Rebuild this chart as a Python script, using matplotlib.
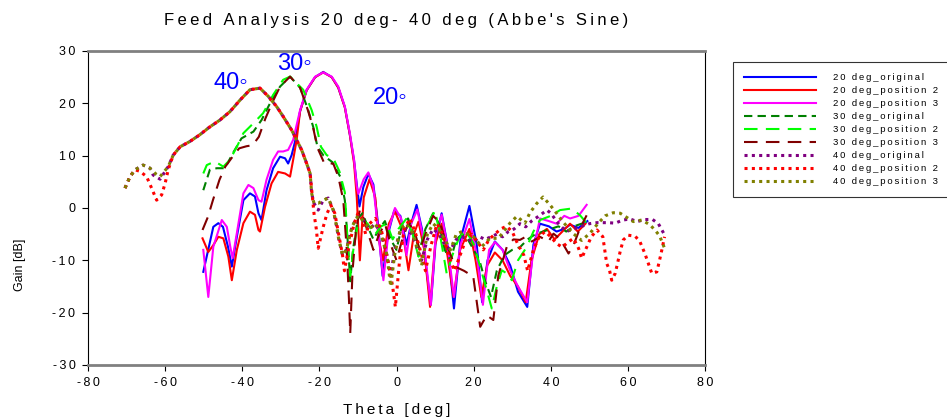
import matplotlib
matplotlib.use("Agg")
import matplotlib.pyplot as plt

plt.rcParams["font.family"] = ["Liberation Sans", "DejaVu Sans"]

# 20 deg feed position
theta_20_orig = [-50.1, -47.5, -46.2, -45, -43.7, -42.7, -41.4, -39.7, -38, -36.7, -35.8, -35, -33.7,
                 -32, -30.2, -28.9, -28.1, -27.2, -26.3, -25, -23.3, -21.1, -19, -16.8, -15.1, -13.4,
                 -12.1, -11, -10.3, -9.6, -8.6, -7.3, -6, -4.8, -3.6, -2.2, -0.6, 1.0, 2.6, 3.8, 5.2,
                 6.6, 7.8, 8.9, 10.2, 11.7, 13.2, 14.9, 16.6, 18.9, 20.8, 22.2, 23.6, 25.5, 27.5, 29.5,
                 31.5, 33.9, 35.5, 37.2, 39.5, 41.5, 43.5, 45, 47.2, 49.5]
gain_20_orig = [-12.2, -3.6, -2.9, -3.6, -7.4, -11.2, -5.5, 1.5, 2.8, 2.2, -1, -2.3, 3.4,
                7.6, 9.8, 9.5, 8.5, 10.1, 12.7, 18.5, 22.5, 25, 26, 25, 23, 19.3,
                14, 9, 4.5, 0.3, 4, 6.5, 4.5, -3, -13, -5, -0.5, -1.5, -7, -3, 0.6,
                -4, -12, -18.5, -6, -1, -7, -19.2, -6, 0.4, -7, -18, -10, -6.4, -8, -11,
                -16, -18.9, -7, -3, -3.5, -4.5, -4, -3.2, -3.8, -2.5]

theta_20_pos2 = [-50.3, -48.8, -47.5, -46.2, -44.9, -43.6, -42.7, -41.4, -39.7, -38, -36.7, -35.8,
                 -35.4, -34.1, -32.4, -30.7, -28.9, -27.6, -26.8, -25.9, -25, -23.3, -21.1, -19,
                 -16.8, -15.1, -13.4, -12.1, -11, -10.3, -9.5, -8.5, -7, -5.5, -4.7, -3.5, -2, -0.4,
                 1.5, 3.1, 4.5, 5.7, 7.2, 8.7, 10, 11.7, 13.2, 14.8, 16.5, 18.9, 20.5, 22, 23.5, 25.5,
                 27.5, 29.5, 31.5, 33.5, 35, 37, 39, 41, 43, 45, 47, 49]
gain_20_pos2 = [-5.8, -8.4, -7.1, -5.5, -5.8, -9.3, -13.8, -8, -2.9, -0.7, -1.3, -4.2,
                -4.5, 0.2, 4.7, 6.9, 6.6, 6, 9.2, 13, 18.5, 22.5, 25, 25.9,
                25, 23, 19.2, 14, 8.5, 2, -10, 2, 5.5, 2, -5.5, -10, -3, -0.7,
                -4, -11.9, -5, -2.6, -8, -18.9, -7, -3, -9, -17, -8, -4, -10, -17, -11, -8.5,
                -10, -13, -15, -18, -10, -5, -4, -6, -4.5, -3, -4.5, -3]

theta_20_pos3 = [-50.1, -48.8, -47.5, -45.3, -44, -43.1, -42.5, -41.4, -39.7, -38.4, -37.1, -35.8,
                 -35, -33.7, -32, -30.7, -29.4, -28.1, -26.8, -25, -23.3, -21.1, -19, -16.8, -15.1,
                 -13.4, -12.1, -11, -10.3, -9.9, -8.5, -7.3, -6, -4.8, -3.4, -2, -0.4, 1.2, 2.6, 3.8,
                 5.4, 7, 8.9, 10.2, 11.7, 13.4, 14.9, 16.6, 18.9, 20.8, 22.4, 24, 25.5, 27.5, 29.5,
                 31.5, 33.9, 35.5, 37.2, 39.5, 41.5, 43.5, 45, 47.2, 49.3]
gain_20_pos3 = [-8, -17, -7.4, -2.3, -3.6, -7.4, -9.6, -4.8, 2.8, 4.4, 3.8, 1.5,
                1.2, 5.4, 9.2, 10.8, 10.8, 11.1, 13, 18.7, 22.6, 25.1, 25.9, 25.1, 23.2,
                19.4, 14.3, 9.2, 4.1, 2.7, 5.5, 6.8, 4, -4, -13.8, -4, 0, -2, -9, -3,
                -0.3, -6, -18.5, -5, -1.3, -8, -17, -7, -2.1, -9, -18.5, -8, -6.5, -8, -12,
                -15, -18, -8, -2, -2.5, -3, -1.5, -2, -1.5, 0.6]

# 30 deg feed position
theta_30_orig = [-50.1, -48.4, -46.6, -44.5, -42.4, -40.2, -37.1, -35, -32.8, -30.2, -27.6, -25,
                 -22.9, -21.6, -20.5, -18.9, -16.7, -14.6, -13.4, -12.5, -12, -11.3, -10, -8.8, -7.5,
                 -6, -4.5, -3, -1.5, 0, 1.5, 3, 4.5, 6, 7.5, 9.5, 11, 12.5, 14, 15.5, 17, 18.5, 20,
                 21.5, 23, 24.5, 26, 28, 30, 32, 34, 36, 38, 40, 42, 44, 46, 48, 49.5]
gain_30_orig = [3.4, 7.3, 7.6, 7.6, 10.5, 13.3, 14.6, 16.8, 20, 23.2, 25.1, 23,
                18.7, 15.5, 11.7, 10, 8.8, 6, 1.5, -8, -14, -8, -2, -1, -3.5,
                -6, -4, -2.5, -6, -8, -3, -2, -5, -8, -4, -1, -3, -8, -10, -6, -5, -6, -8,
                -10, -14, -17, -12, -9, -8, -7.5, -6, -5, -4.5, -4, -3.5, -4.5, -3.5, -3, -3.5]

theta_30_pos2 = [-50.1, -49.2, -47.1, -44.9, -43.2, -41.4, -39.7, -37.1, -34.6, -32, -29.4, -27.6,
                 -24.2, -22, -20.7, -19.6, -18.1, -16.4, -14.8, -13.4, -12.5, -12, -11.2, -10, -9,
                 -7.5, -5.6, -4, -2.5, -1, 0.5, 2.6, 4.2, 5.7, 7.5, 10, 11.5, 13, 14.5, 16, 17.8,
                 19.9, 22, 23.5, 24.7, 26, 27.3, 28.6, 29.9, 31.5, 33.8, 35.5, 37.2, 40, 42.4, 45.4,
                 47.6, 49.3]
gain_30_pos2 = [6.6, 8.2, 8.9, 7.9, 9.2, 11.7, 14.3, 16.2, 18.1, 21.6, 24.5, 25.1,
                22.6, 18.7, 15.5, 11.7, 10.1, 9.5, 7, 3, -8.7, -13, -8, -3, -2.3,
                -3, -5.1, -3.5, -3, -6, -4, -2, -5, -9.3, -4, -0.5, -6, -12.5, -9, -6.1, -4.2,
                -6.7, -12, -16, -19.2, -15, -11.9, -12.5, -13.8, -10, -7.4, -4.5, -2.3, -1.5, -0.4, -0.1,
                -1.4, -2.9]

theta_30_pos3 = [-50.3, -48.9, -47.6, -45.9, -44.4, -42.5, -40.8, -38.9, -37.3, -35.7, -34, -32.3,
                 -30.2, -27.6, -25, -22.9, -21.6, -20.5, -18.7, -16.4, -15.1, -13.8, -12.9, -12.3, -12,
                 -11.4, -10.5, -9.5, -8.5, -7.3, -6, -4.5, -3, -1.5, 0, 1.5, 3, 4.5, 6, 7.5, 9.5,
                 11.3, 13, 15.2, 17.5, 19.9, 21.7, 23.4, 25.1, 26.4, 28.6, 30.3, 32, 33.5, 35.1, 37.2,
                 39.4, 40.7, 42.5, 44.6, 45.9, 47.5, 49.3]
gain_30_pos3 = [-4.2, -1.7, 1.5, 5.4, 7.9, 9.8, 11.4, 11.8, 12, 13.6, 17.1, 20,
                23.2, 25.1, 23, 18.5, 15.3, 11.5, 8.5, 8.5, 6, 1.5, -8, -18, -24,
                -12, -4, -0.4, -2, -5, -8, -5, -3, -7, -10, -6, -3, -4, -8, -5, -1.5,
                -2.9, -7, -11.2, -12, -13.1, -22.7, -20.5, -21.4, -12.9, -7.4, -6, -6.1, -5.5, -6.4, -5.5,
                -6.4, -4.9, -6, -8.7, -7.1, -4, -1.4]

# 40 deg feed position
theta_40_orig = [-70.4, -69.1, -67.8, -65.7, -63.9, -63.1, -61.3, -59.2, -57.9, -56.1, -53.6, -51,
                 -48.4, -45.8, -43.2, -40.6, -38, -35.4, -33.2, -31.1, -29.4, -27.2, -25.9, -24.6,
                 -23.3, -22.4, -22, -21.4, -20.3, -19, -17.7, -16.4, -15.5, -15.1, -14, -13, -11.5,
                 -10, -8.5, -7, -5.5, -4, -2.5, -1.5, -0.5, 1, 2.5, 4, 5.5, 6.5, 8, 9.5, 11, 12.5, 14,
                 15.5, 17, 18.5, 20, 21.5, 23, 24.5, 26, 27.5, 29, 30.5, 32, 33.5, 35, 37, 39, 40,
                 42, 44, 46, 48, 50, 52, 54.9, 56.7, 58.7, 60.6, 62.4, 64.4, 66.4, 67.9, 68.8, 69.4]
gain_40_orig = [3.8, 6, 7.3, 8.2, 7.6, 6.3, 5.5, 7.9, 10.1, 11.7, 12.7, 14,
                15.5, 16.8, 18.4, 20.6, 22.6, 22.9, 21.3, 19.4, 17.5, 14.9, 13, 11.1,
                8.5, 6.6, 2.8, 0.9, -0.4, 1.5, 1.9, -0.4, -3.6, -5.5, -9, -8, -3.5,
                -1.5, -2.5, -4, -3, -5, -9, -13, -8, -4.5, -4, -5, -8, -10, -6, -4, -5, -7, -8,
                -6, -5.5, -6, -6.5, -5.5, -6, -5.5, -5, -5.5, -4.5, -4, -3, -3.6, -2.5, -1.5, -0.4, -1,
                -3, -4.5, -4, -3.5, -3, -2.8, -2.8, -2.9, -2.3, -2.1, -2.6, -2.2, -2.2, -3, -4.2, -5]

theta_40_pos2 = [-70.4, -69.1, -67.8, -66.5, -64.8, -63.5, -62.2, -60.9, -60, -59.2, -57.9, -56.1,
                 -53.6, -51, -48.4, -45.8, -43.2, -40.6, -38, -35.4, -33.2, -31.1, -29.4, -27.2, -25.9,
                 -24.6, -23.3, -22.4, -21.4, -20.8, -20.3, -19, -18, -17, -16, -15, -14, -13.5, -12.5,
                 -11, -10, -9, -8, -7, -5.5, -4, -2.5, -1, -0.3, 0.8, 2, 3.5, 5, 6.5, 7.5, 9, 10.5,
                 12, 13.5, 15, 16.5, 18, 19.5, 21, 22.5, 24, 25.5, 27, 28.5, 30, 31.5, 33, 34, 35.5,
                 37, 38.5, 40, 41.5, 43, 44.5, 45.9, 47.2, 48, 49, 50.5, 52, 53.5, 54.5, 55.2, 55.8,
                 56.7, 57.3, 58, 58.8, 60.1, 61.9, 63.1, 64.4, 65.3, 66.2, 67.5, 68.2, 68.8, 69.5]
gain_40_pos2 = [3.8, 6, 7.3, 7, 6, 3.8, 1.5, 2.5, 4.7, 7.3, 10.1, 11.7,
                12.7, 14, 15.5, 16.8, 18.4, 20.6, 22.6, 22.9, 21.3, 19.4, 17.5, 14.9, 13,
                11.1, 8.5, 6.6, -1, -4, -7.7, -3.6, -1, 0.5, -1, -5, -9, -12, -8,
                -3, -1, -2, -5, -3, -2, -4, -9, -15, -18.9, -10, -4, -2, -5, -9, -12, -7, -3,
                -5, -9, -12, -9, -6, -5, -6.5, -8, -6, -5, -4, -3.5, -4.5, -7, -9, -12, -8,
                -5.5, -4.5, -5.5, -6.8, -7.5, -6.5, -5.8, -7.7, -9.6, -8, -5.5, -4.2, -5.5, -10.6, -11.8, -13.8,
                -12.5, -10.6, -8.3, -6.1, -5.2, -5.4, -6.4, -8.7, -10.6, -12.5, -12.2, -10, -8, -5.5]

theta_40_pos3 = [-70.4, -69.1, -67.8, -65.7, -63.9, -62.4, -61.3, -59.2, -57.9, -56.1, -53.6, -51,
                 -48.4, -45.8, -43.2, -40.6, -38, -35.4, -33.2, -31.1, -29.4, -27.2, -25.9, -24.6,
                 -23.3, -22.4, -22, -21.4, -20.3, -19, -17.7, -16.4, -15.5, -15.1, -14, -13, -11.5,
                 -10, -8.5, -7, -5.5, -4, -2.5, -1.5, -0.5, 1, 2.5, 4, 5.5, 6.5, 8, 9.5, 11, 12.5, 14,
                 15.5, 17, 18.5, 20, 22.1, 24.2, 26.4, 28.1, 29.4, 31.2, 33.3, 34.6, 36.4, 38, 39.8,
                 41.5, 43, 44.5, 46, 48, 50.2, 52.3, 54.1, 56.2, 58, 59.7, 61.4, 63.6, 65.7, 67, 68.2,
                 68.8, 69.4]
gain_40_pos3 = [3.8, 6, 7.3, 8.2, 7.6, 6.5, 6, 7.9, 10.1, 11.7, 12.7, 14,
                15.5, 16.8, 18.4, 20.6, 22.6, 22.9, 21.3, 19.4, 17.5, 14.9, 13, 11.1,
                8.5, 6.6, 2.8, 0.9, 0.9, 1.5, 1.9, -0.4, -3.6, -5.5, -9, -8, -3.5,
                -1.5, -2.5, -4, -3, -5, -9, -15, -9, -4, -3, -4.5, -8, -11, -5, -3, -4, -6, -8,
                -5, -4.5, -5, -5.5, -7.4, -5.8, -5.8, -4.2, -2.9, -1.6, -2.9, -0.9, 0.9, 2.1, 0.6,
                -1, -2.5, -3.8, -5, -6.2, -4.8, -2.9, -1.5, -0.9, -1, -1.8, -2.6, -2.3, -3.2, -4.2, -5.3,
                -6.4, -7.5]


def spaced(text):
    # widen letter spacing with thin spaces
    return "\u2009".join(text)


fig = plt.figure(figsize=(9.47, 4.18), dpi=100)
ax = fig.add_axes([0.0929, 0.1268, 0.6516, 0.7512])

ax.plot(theta_20_orig, gain_20_orig, color="#0000ff", lw=1.5, label="20 deg_original")
ax.plot(theta_20_pos2, gain_20_pos2, color="#ff0000", lw=1.5, label="20 deg_position 2")
ax.plot(theta_20_pos3, gain_20_pos3, color="#ff00ff", lw=1.5, label="20 deg_position 3")
ax.plot(theta_30_orig, gain_30_orig, color="#008000", lw=1.5, ls=(0, (4, 2.5)), label="30 deg_original")
ax.plot(theta_30_pos2, gain_30_pos2, color="#00ff00", lw=1.5, ls=(0, (6.5, 4)), label="30 deg_position 2")
ax.plot(theta_30_pos3, gain_30_pos3, color="#800000", lw=1.5, ls=(0, (6.5, 4)), label="30 deg_position 3")
ax.plot(theta_40_orig, gain_40_orig, color="#800080", lw=2.2, ls=(0, (1, 1.4)), label="40 deg_original")
ax.plot(theta_40_pos2, gain_40_pos2, color="#ff0000", lw=2.2, ls=(0, (1, 1.4)), label="40 deg_position 2")
ax.plot(theta_40_pos3, gain_40_pos3, color="#808000", lw=2.2, ls=(0, (1, 1.4)), label="40 deg_position 3")

ax.text(-43, 23.8, "40\u25e6", color="#0000ff", fontsize=17, ha="center", va="center")
ax.text(-26.6, 27.6, "30\u25e6", color="#0000ff", fontsize=17, ha="center", va="center")
ax.text(-1.7, 21, "20\u25e6", color="#0000ff", fontsize=17, ha="center", va="center")

ax.set_xlim(-80, 80)
ax.set_ylim(-30, 30)
ax.set_xticks(range(-80, 81, 20))
ax.set_yticks(range(-30, 31, 10))
ax.set_xticklabels([spaced(str(v)) for v in range(-80, 81, 20)], fontsize=9)
ax.set_yticklabels([spaced(str(v)) for v in range(-30, 31, 10)], fontsize=9)
ax.tick_params(direction="out", length=4, width=0.8, color="#000000", pad=5)

for side in ("top", "bottom"):
    ax.spines[side].set_color("#808080")
    ax.spines[side].set_linewidth(2)
for side in ("left", "right"):
    ax.spines[side].set_color("#000000")
    ax.spines[side].set_linewidth(0.8)

ax.set_xlabel(spaced("Theta [deg]"), fontsize=11, labelpad=10)
ax.set_ylabel("Gain [dB]", fontsize=9)
ax.yaxis.set_label_coords(-0.10, 0.32)
fig.text(0.4186, 0.952, spaced("Feed Analysis 20 deg- 40 deg (Abbe's Sine)"),
         fontsize=12, ha="center", va="center")

handles, labels = ax.get_legend_handles_labels()
leg = fig.legend(handles, [spaced(l) for l in labels], loc="upper left",
                 bbox_to_anchor=(733 / 947, 1 - 62 / 418), fontsize=6.8,
                 frameon=True, fancybox=False, handlelength=7.6, handletextpad=1.8,
                 labelspacing=0.42, borderpad=1.2, borderaxespad=0)
leg.get_frame().set_edgecolor("#000000")
leg.get_frame().set_linewidth(0.8)

fig.savefig("out.png", dpi=100)
